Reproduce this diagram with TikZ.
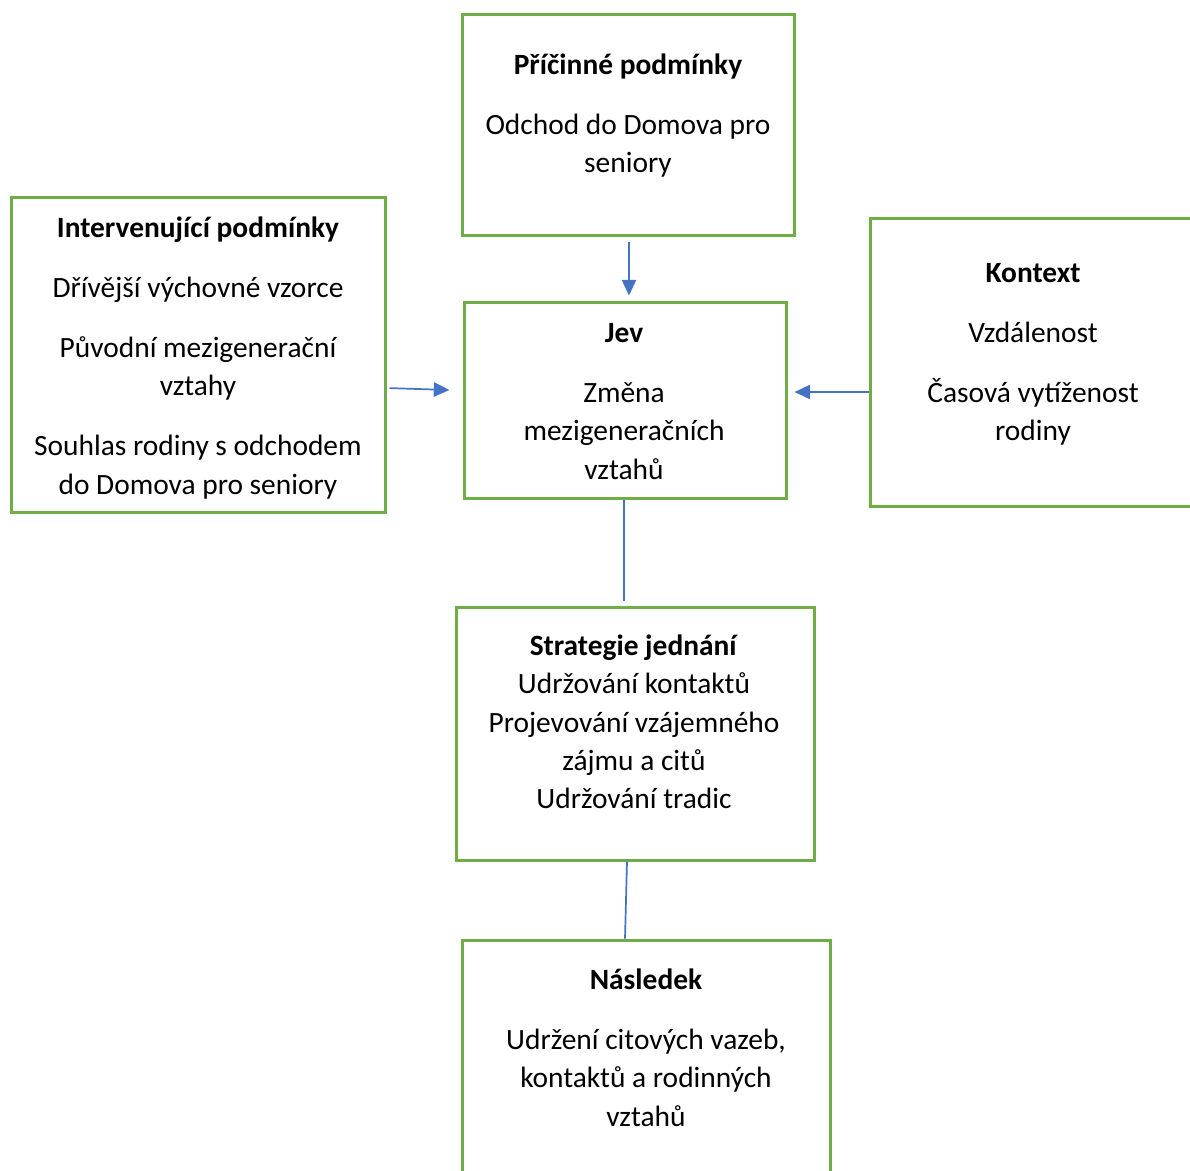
\documentclass[tikz,border=0pt]{standalone}
\usepackage{fontspec}
\setmainfont{Carlito}
\usepackage{tikz}
\usepackage{xcolor}
\usetikzlibrary{positioning, fit, arrows.meta, calc}

\definecolor{boxgreen}{HTML}{70AD47}
\definecolor{linkblue}{HTML}{4472C4}
\newcommand{\firstline}{\rule{0pt}{10pt}}

\begin{document}
\begin{tikzpicture}[x=0.35pt, y=-0.35pt, >={Triangle[length=5.5pt, width=5pt]},
    frame/.style = {draw=boxgreen, line width=1.05pt, rectangle, inner sep=0pt},
    boxtext/.style = {font=\fontsize{10.3}{13.4}\selectfont, align=center, inner sep=0pt, anchor=north},
    link/.style = {draw=linkblue, line width=0.6pt}]

    \clip (0,0) rectangle (1190,1170);

    % boxes
    \node[frame, fit={(462,14) (794,235)}] (cause) {};
    \node[frame, fit={(11,197) (385,512)}] (interv) {};
    \node[frame, fit={(464,302) (786,498)}] (jev) {};
    \node[frame, fit={(870,218) (1200,506)}] (context) {};
    \node[frame, fit={(456,607) (814,860)}] (strategy) {};
    \node[frame, fit={(462,940) (830,1200)}] (result) {};

    % texts
    \node[boxtext] (causetext) at (628,45.4) {\firstline\textbf{Příčinné podmínky}\\[7.6pt]
        Odchod do Domova pro\\ seniory};
    \node[boxtext] (intervtext) at (198,208.4) {\firstline\textbf{Intervenující podmínky}\\[7.6pt]
        Dřívější výchovné vzorce\\[7.6pt]
        Původní mezigenerační\\ vztahy\\[7.6pt]
        Souhlas rodiny s odchodem\\ do Domova pro seniory};
    \node[boxtext] (jevtext) at (624,313.4) {\firstline\textbf{Jev}\\[7.6pt]
        Změna\\ mezigeneračních\\ vztahů};
    \node[boxtext] (contexttext) at (1033,253.4) {\firstline\textbf{Kontext}\\[7.6pt]
        Vzdálenost\\[7.6pt]
        Časová vytíženost\\ rodiny};
    \node[boxtext] (strategytext) at (634,626.4) {\firstline\textbf{Strategie jednání}\\
        Udržování kontaktů\\ Projevování vzájemného\\ zájmu a citů\\ Udržování tradic};
    \node[boxtext] (resulttext) at (646,960.4) {\firstline\textbf{Následek}\\[7.6pt]
        Udržení citových vazeb,\\ kontaktů a rodinných\\ vztahů};

    % connectors
    \draw[link, ->, shorten <=5*0.35pt, shorten >=5*0.35pt] ([shift={(1,0)}]cause.south) -- ([shift={(1,0)}]cause.south |- jev.north);
    \draw[link, ->, shorten <=3*0.35pt] ([shift={(0,33.5)}]interv.east) -- ([shift={(-13,-10)}]jev.west);
    \draw[link, ->] ([shift={(0,30)}]context.west) -- ([shift={(7,-8)}]jev.east);
    \draw[link, shorten >=5*0.35pt] ([shift={(-1,0)}]jev.south) -- ([shift={(-1,0)}]jev.south |- strategy.north);
    \draw[link] ([shift={(-8,0)}]strategy.south) -- ([shift={(-21,0)}]result.north);
\end{tikzpicture}
\end{document}
